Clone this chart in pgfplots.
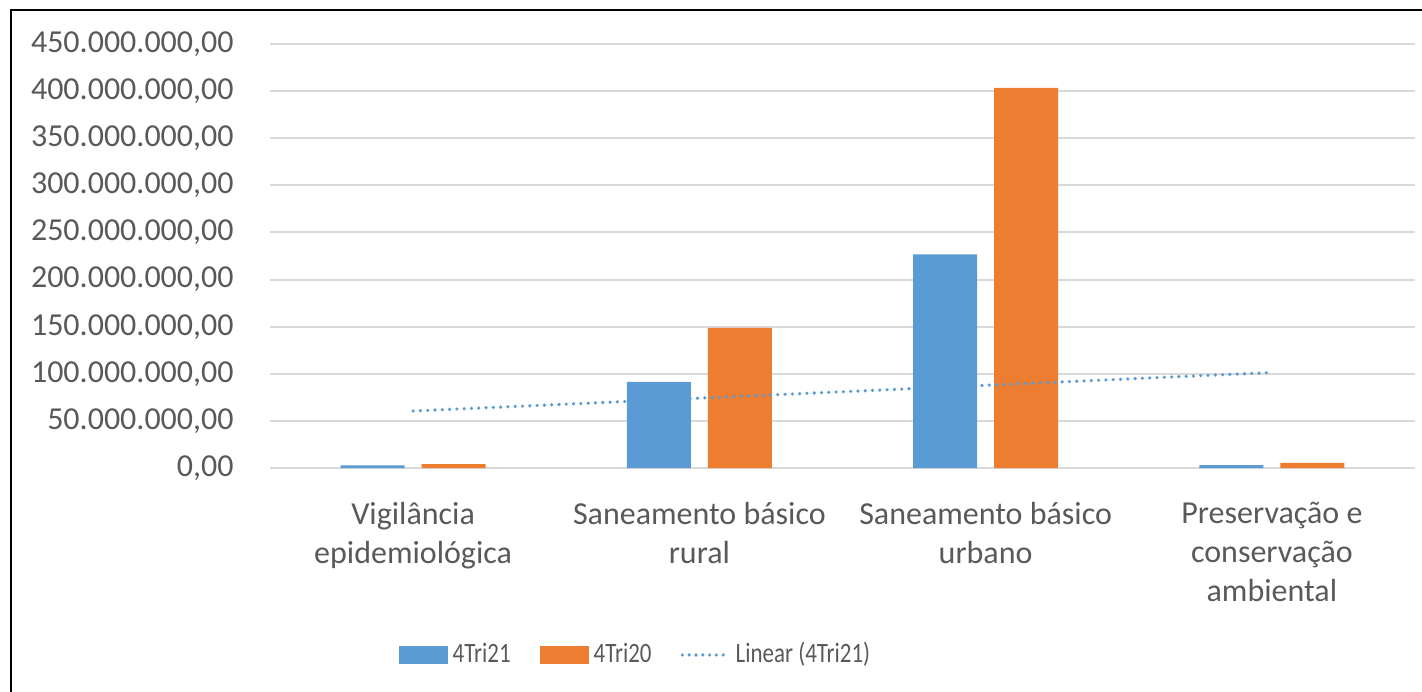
\documentclass[border=0pt]{standalone}
\usepackage{pgfplots}
\pgfplotsset{compat=1.18}
\usepackage{fontspec}
\setmainfont{Carlito}
\newfontfamily\legendfont[FakeStretch=0.82]{Carlito}

\definecolor{bblue}{HTML}{5B9BD5}
\definecolor{borange}{HTML}{ED7D31}
\definecolor{gridgray}{HTML}{D9D9D9}
\definecolor{txtgray}{HTML}{595959}

\begin{document}
\fontsize{16bp}{19.5bp}\selectfont
\begin{tikzpicture}
\useasboundingbox (-135bp,-112bp) rectangle (576bp,234bp);
% chart frame (only left and top edges fall inside the picture)
\draw[line width=1bp, black] (-129.5bp,-113bp) -- (-129.5bp,229bp) -- (577bp,229bp);
\begin{axis}[
    at={(0,0)}, anchor=south west,
    scale only axis,
    width=572.5bp,
    height=212bp,
    xmin=-0.5, xmax=3.5,
    ymin=0, ymax=450000000,
    axis line style={draw=none},
    major tick length=0pt,
    ymajorgrids,
    grid style={gridgray, line width=1bp},
    xtick={0,1,2,3},
    xticklabels={{Vigilância\\epidemiológica},{Saneamento básico\\rural},{Saneamento básico\\urbano},{Preservação e\\conservação\\ambiental}},
    ytick={0,50000000,100000000,150000000,200000000,250000000,300000000,350000000,400000000,450000000},
    scaled y ticks=false,
    /pgf/number format/fixed,
    /pgf/number format/fixed zerofill,
    /pgf/number format/precision=2,
    /pgf/number format/use comma,
    /pgf/number format/1000 sep={.},
    /pgf/number format/assume math mode=true,
    ticklabel style={text=txtgray, font=\fontsize{16bp}{19.5bp}\selectfont},
    yticklabel style={inner sep=0pt, anchor=east, xshift=-18bp},
    xticklabel style={inner sep=0pt, anchor=north, yshift=-17bp, align=center},
    legend columns=3,
    legend style={draw=none, fill=none, at={(0.3183,-0.441)}, anchor=center,
        text=txtgray, font=\legendfont\fontsize{14bp}{17bp}\selectfont,
        nodes={inner sep=0pt},
        /tikz/every odd column/.append style={column sep=2.5bp},
        /tikz/every even column/.append style={column sep=14.5bp}},
    legend cell align=left,
]
\addplot[ybar, bar width=32bp, bar shift=-20.25bp, fill=bblue, draw=none,
    legend image code/.code={\fill[bblue] (0bp,-4.5bp) rectangle (24.5bp,4.5bp);}]
    coordinates {(0,2700000) (1,91300000) (2,226700000) (3,3000000)};
\addlegendentry{4Tri21}
\addplot[ybar, bar width=32bp, bar shift=20.25bp, fill=borange, draw=none,
    legend image code/.code={\fill[borange] (0bp,-4.5bp) rectangle (24.5bp,4.5bp);}]
    coordinates {(0,4000000) (1,148600000) (2,403500000) (3,5500000)};
\addlegendentry{4Tri20}
% linear trend of 4Tri21
\addplot[sharp plot, bblue, line width=1.8bp, line cap=round, dash pattern=on 0bp off 3.65bp,
    legend image code/.code={\draw[bblue, line width=1.8bp, line cap=round, dash pattern=on 0bp off 3.4bp] (0.75bp,0bp) -- (24bp,0bp);}]
    coordinates {(0,60480000) (3,101370000)};
\addlegendentry{Linear (4Tri21)}
\end{axis}
\end{tikzpicture}
\end{document}
